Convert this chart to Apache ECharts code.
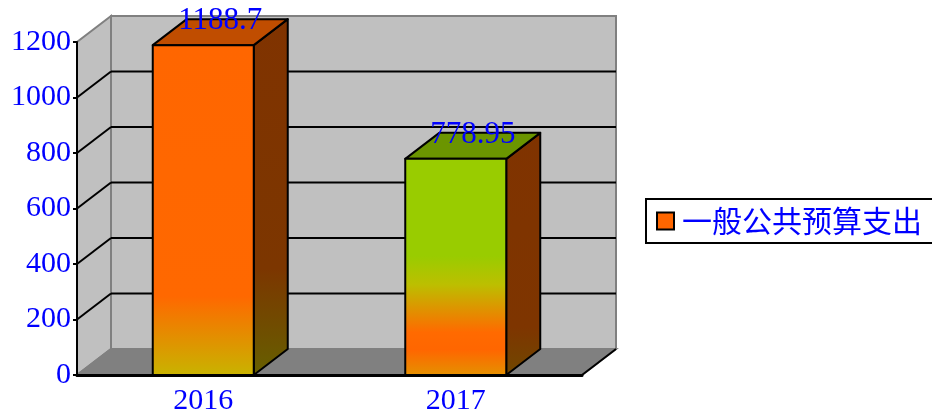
<!DOCTYPE html>
<html>
<head>
<meta charset="utf-8">
<script src="https://cdn.jsdelivr.net/npm/echarts@6/dist/echarts.min.js"></script>
<style>
  html, body { margin: 0; padding: 0; background: #fff; }
  #main { width: 932px; height: 416px; }
</style>
</head>
<body>
<div id="main"></div>
<script>
// 数据
var years = ['2016', '2017'];
var spending = [1188.7, 778.95];
var yTicks = [0, 200, 400, 600, 800, 1000, 1200];
var seriesName = '一般公共预算支出';

// 3D 深度偏移
var DX = 34, DY = -26;
var yMax = yTicks[yTicks.length - 1];

var chart = echarts.init(document.getElementById('main'));

function grad(stops) {
    return new echarts.graphic.LinearGradient(0, 0, 0, 1, stops.map(function (s) {
        return { offset: s[0], color: s[1] };
    }));
}

// 每根柱子的颜色（正面、侧面、顶面）
var barStyles = [
    {
        front: grad([[0, '#ff6600'], [0.76, '#ff6800'], [1, '#c8b400']]),
        side: grad([[0, '#803300'], [0.7, '#7c3600'], [1, '#666000']]),
        top: '#c04d00'
    },
    {
        front: grad([[0, '#99cc00'], [0.45, '#99cc00'], [0.58, '#bcbf00'], [0.8, '#ff6a00'], [0.88, '#ff6600'], [1, '#e49200']]),
        side: grad([[0, '#803300'], [0.8, '#7e3500'], [1, '#704800']]),
        top: '#6b9500'
    }
];

// 背景墙、地板、网格线
function renderWalls(params, api) {
    var cs = params.coordSys;
    var L = cs.x, R = cs.x + cs.width;
    var y0 = api.coord([0, 0])[1];
    var yT = api.coord([0, yMax])[1];
    var wallStyle = { fill: '#c0c0c0', stroke: '#808080', lineWidth: 2 };
    var children = [
        { type: 'polygon', shape: { points: [[L, y0], [L + DX, y0 + DY], [L + DX, yT + DY], [L, yT]] }, style: wallStyle },
        { type: 'polygon', shape: { points: [[L + DX, yT + DY], [R + DX, yT + DY], [R + DX, y0 + DY], [L + DX, y0 + DY]] }, style: wallStyle },
        { type: 'polygon', shape: { points: [[L, y0], [R, y0], [R + DX, y0 + DY], [L + DX, y0 + DY]] }, style: { fill: '#808080', stroke: '#808080', lineWidth: 2 } }
    ];
    yTicks.forEach(function (t) {
        if (t === 0 || t === yMax) return;
        var y = api.coord([0, t])[1];
        children.push({ type: 'line', shape: { x1: L + DX, y1: y + DY, x2: R + DX, y2: y + DY }, style: { stroke: '#000', lineWidth: 2 } });
        children.push({ type: 'line', shape: { x1: L, y1: y, x2: L + DX, y2: y + DY }, style: { stroke: '#000', lineWidth: 2 } });
    });
    children.push({ type: 'line', shape: { x1: R, y1: y0, x2: R + DX, y2: y0 + DY }, style: { stroke: '#000', lineWidth: 2 } });
    return { type: 'group', children: children };
}

// 立体柱子
function renderBar(params, api) {
    var i = api.value(0), v = api.value(1);
    var top = api.coord([i, v]);
    var base = api.coord([i, 0]);
    var w = api.size([1, 0])[0] * 0.4;
    var xl = top[0] - w / 2, xr = top[0] + w / 2;
    var yt = top[1], yb = base[1];
    var st = barStyles[params.dataIndex];
    var edge = { stroke: '#000', lineWidth: 2, lineJoin: 'round' };
    return {
        type: 'group',
        children: [
            { type: 'polygon', shape: { points: [[xr, yt], [xr + DX, yt + DY], [xr + DX, yb + DY], [xr, yb]] },
              style: Object.assign({ fill: st.side }, edge) },
            { type: 'polygon', shape: { points: [[xl, yt], [xl + DX, yt + DY], [xr + DX, yt + DY], [xr, yt]] },
              style: Object.assign({ fill: st.top }, edge) },
            { type: 'polygon', shape: { points: [[xl, yt], [xr, yt], [xr, yb], [xl, yb]] },
              style: Object.assign({ fill: st.front }, edge) },
            { type: 'text', z2: 10,
              style: { text: String(v), x: top[0] + DX / 2, y: yt - 24, fill: '#0000ff',
                       font: '31px "Liberation Serif"', textAlign: 'center', textVerticalAlign: 'middle' } }
        ]
    };
}

var option = {
    backgroundColor: '#ffffff',
    animation: false,
    grid: { left: 77, right: 350, top: 42, bottom: 39 },
    legend: {
        data: [{ name: seriesName, icon: 'rect', itemStyle: { color: '#ff6600', borderColor: '#000', borderWidth: 2 } }],
        selectedMode: false,
        left: 646,
        top: 199,
        padding: [7, 20, 7, 10],
        borderColor: '#000',
        borderWidth: 2,
        itemWidth: 17,
        itemHeight: 17,
        textStyle: { color: '#0000ff', fontSize: 30, fontFamily: 'Noto Sans CJK SC', padding: [0, 0, 0, 3] }
    },
    xAxis: {
        type: 'category',
        data: years,
        z: 10,
        axisLine: { lineStyle: { color: '#000', width: 3 } },
        axisTick: { inside: true, length: 5, lineStyle: { color: '#000', width: 2 } },
        axisLabel: { color: '#0000ff', fontSize: 30, fontFamily: 'Liberation Serif', margin: 11 }
    },
    yAxis: {
        type: 'value',
        min: 0,
        max: yMax,
        interval: 200,
        z: 10,
        axisLine: { show: true, lineStyle: { color: '#000', width: 2 } },
        axisTick: { show: true, length: 4, lineStyle: { color: '#000', width: 2 } },
        axisLabel: {
            color: '#0000ff', fontSize: 30, fontFamily: 'Liberation Serif', margin: 6,
            formatter: function (value) { return String(value); }
        },
        splitLine: { show: false }
    },
    series: [
        {
            type: 'custom',
            name: 'walls',
            z: 1,
            silent: true,
            renderItem: renderWalls,
            encode: { x: 0, y: 1 },
            data: [[0, 0]]
        },
        {
            type: 'custom',
            name: seriesName,
            z: 3,
            itemStyle: { color: '#ff6600' },
            renderItem: renderBar,
            encode: { x: 0, y: 1 },
            data: spending.map(function (v, i) { return [i, v]; })
        }
    ]
};

chart.setOption(option);
window.addEventListener('resize', function () { chart.resize(); });
</script>
</body>
</html>
